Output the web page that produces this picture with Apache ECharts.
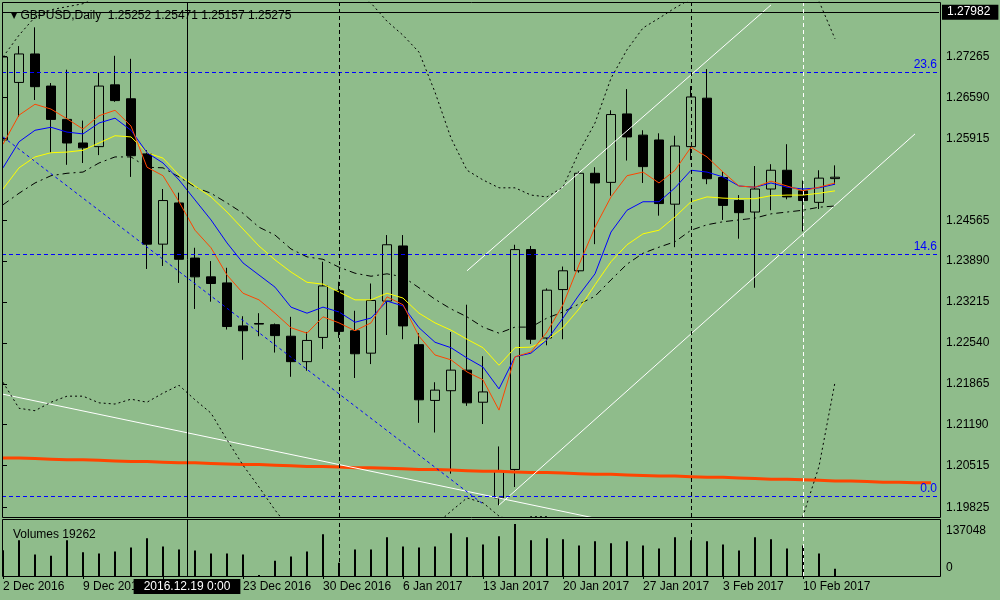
<!DOCTYPE html>
<html>
<head>
<meta charset="utf-8">
<script src="https://cdn.jsdelivr.net/npm/echarts@6.0.0/dist/echarts.min.js"></script>
<style>
  html, body { margin: 0; padding: 0; background: #8fbc8b; }
  #chart { width: 1000px; height: 600px; }
</style>
</head>
<body>
<div id="chart"></div>
<script>
// ==================== data
const dates = [
  '2 Dec 2016',
  '5 Dec 2016', '6 Dec 2016', '7 Dec 2016', '8 Dec 2016', '9 Dec 2016',
  '12 Dec 2016', '13 Dec 2016', '14 Dec 2016', '15 Dec 2016', '16 Dec 2016',
  '19 Dec 2016', '20 Dec 2016', '21 Dec 2016', '22 Dec 2016', '23 Dec 2016',
  '26 Dec 2016', '27 Dec 2016', '28 Dec 2016', '29 Dec 2016', '30 Dec 2016',
  '2 Jan 2017', '3 Jan 2017', '4 Jan 2017', '5 Jan 2017', '6 Jan 2017',
  '9 Jan 2017', '10 Jan 2017', '11 Jan 2017', '12 Jan 2017', '13 Jan 2017',
  '16 Jan 2017', '17 Jan 2017', '18 Jan 2017', '19 Jan 2017', '20 Jan 2017',
  '23 Jan 2017', '24 Jan 2017', '25 Jan 2017', '26 Jan 2017', '27 Jan 2017',
  '30 Jan 2017', '31 Jan 2017', '1 Feb 2017', '2 Feb 2017', '3 Feb 2017',
  '6 Feb 2017', '7 Feb 2017', '8 Feb 2017', '9 Feb 2017', '10 Feb 2017',
  '13 Feb 2017', '14 Feb 2017',
];
const shownDates = ['2 Dec 2016', '9 Dec 2016', '16 Dec 2016', '23 Dec 2016', '30 Dec 2016',
  '6 Jan 2017', '13 Jan 2017', '20 Jan 2017', '27 Jan 2017', '3 Feb 2017', '10 Feb 2017'];

const opens = [1.2589, 1.2684, 1.2731, 1.2678, 1.2623, 1.2584, 1.2578, 1.2680, 1.2657, 1.2566,
  1.2417, 1.2485, 1.2394, 1.2363, 1.2353, 1.2282, 1.2286, 1.2284, 1.2265, 1.2223,
  1.2263, 1.2340, 1.2274, 1.2237, 1.2323, 1.2414, 1.2251, 1.2159, 1.2175, 1.2209,
  1.2156, 1.1998, 1.2045, 1.2408, 1.2262, 1.2342, 1.2373, 1.2534, 1.2519, 1.2632,
  1.2597, 1.2589, 1.2483, 1.2578, 1.2658, 1.2527, 1.2489, 1.2470, 1.2508, 1.2539,
  1.2505, 1.2486, 1.25252];
const highs = [1.2738, 1.2744, 1.2775, 1.2683, 1.2705, 1.2621, 1.2700, 1.2728, 1.2723, 1.2572,
  1.2508, 1.2502, 1.2411, 1.2389, 1.2378, 1.2298, 1.2303, 1.2286, 1.2297, 1.2272,
  1.2388, 1.2355, 1.2307, 1.2352, 1.2432, 1.2432, 1.2270, 1.2189, 1.2272, 1.2317,
  1.2232, 1.2083, 1.2416, 1.2414, 1.2344, 1.2380, 1.2537, 1.2544, 1.2638, 1.2673,
  1.2605, 1.2600, 1.2596, 1.2678, 1.2706, 1.2537, 1.2498, 1.2546, 1.2549, 1.2582,
  1.2522, 1.2539, 1.25471];
const lows = [1.2569, 1.2627, 1.2655, 1.2568, 1.2548, 1.2551, 1.2564, 1.2652, 1.2528, 1.2376,
  1.2381, 1.2353, 1.2310, 1.2322, 1.2276, 1.2226, 1.2265, 1.2238, 1.2198, 1.2208,
  1.2244, 1.2262, 1.2196, 1.2219, 1.2267, 1.2260, 1.2122, 1.2106, 1.2038, 1.2150,
  1.2120, 1.1986, 1.2016, 1.2252, 1.2250, 1.2260, 1.2370, 1.2417, 1.2497, 1.2555,
  1.2518, 1.2464, 1.2412, 1.2556, 1.2516, 1.2457, 1.2426, 1.2345, 1.2473, 1.2491,
  1.2438, 1.2475, 1.25157];
const closes = [1.2726, 1.2731, 1.2677, 1.2623, 1.2584, 1.2576, 1.2678, 1.2654, 1.2563, 1.2417,
  1.2489, 1.2392, 1.2363, 1.2352, 1.2281, 1.2274, 1.2285, 1.2266, 1.2223, 1.2258,
  1.2348, 1.2273, 1.2236, 1.2324, 1.2416, 1.2282, 1.2160, 1.2176, 1.2209, 1.2155,
  1.2173, 1.2043, 1.2408, 1.2260, 1.2341, 1.2373, 1.2534, 1.2518, 1.2631, 1.2594,
  1.2545, 1.2484, 1.2579, 1.2660, 1.2525, 1.2481, 1.2469, 1.2508, 1.2539, 1.2495,
  1.2489, 1.2526, 1.25275];
const volumes = [68000, 94000, 56400, 53700, 94000, 62700, 59100, 64500, 75200, 99400,
  77900, 69900, 67200, 59100, 59100, 56400, 2700, 40300, 51100, 64500,
  110200, 34900, 69900, 69900, 102100, 77900, 75200, 77900, 112900, 102100,
  83300, 104800, 137048, 94000, 99400, 96700, 80600, 91400, 86000, 91400,
  80600, 72600, 102100, 94000, 91400, 83300, 67200, 102100, 96700, 72600,
  80600, 59100, 19262];

// moving averages (red, blue, yellow) and the dash-dot one
const maRed = [1.2582, 1.2630, 1.2648, 1.2640, 1.2624, 1.2607, 1.2629, 1.2638, 1.2612, 1.2544,
  1.2530, 1.2487, 1.2440, 1.2411, 1.2366, 1.2336, 1.2325, 1.2303, 1.2279, 1.2270,
  1.2297, 1.2287, 1.2274, 1.2287, 1.2330, 1.2317, 1.2265, 1.2234, 1.2226, 1.2206,
  1.2193, 1.2143, 1.2231, 1.2239, 1.2272, 1.2317, 1.2383, 1.2445, 1.2495, 1.2530,
  1.2536, 1.2518, 1.2539, 1.2577, 1.2561, 1.2536, 1.2513, 1.2511, 1.2521, 1.2513,
  1.2505, 1.2511, 1.2518];
const maBlue = [1.2543, 1.2586, 1.2605, 1.2610, 1.2602, 1.2599, 1.2617, 1.2625, 1.2605, 1.2568,
  1.2551, 1.2523, 1.2490, 1.2457, 1.2419, 1.2386, 1.2366, 1.2346, 1.2313, 1.2303,
  1.2313, 1.2305, 1.2288, 1.2295, 1.2323, 1.2315, 1.2279, 1.2255, 1.2246, 1.2229,
  1.2214, 1.2178, 1.2231, 1.2237, 1.2259, 1.2295, 1.2333, 1.2368, 1.2437, 1.2473,
  1.2487, 1.2487, 1.2510, 1.2539, 1.2536, 1.2528, 1.2513, 1.2511, 1.2518, 1.2511,
  1.2508, 1.2510, 1.2516];
const maYellow = [1.2508, 1.2543, 1.2561, 1.2568, 1.2569, 1.2572, 1.2584, 1.2596, 1.2594, 1.2568,
  1.2559, 1.2531, 1.2513, 1.2495, 1.2470, 1.2442, 1.2414, 1.2391, 1.2371, 1.2354,
  1.2351, 1.2338, 1.2325, 1.2325, 1.2336, 1.2328, 1.2303, 1.2287, 1.2275, 1.2260,
  1.2246, 1.2217, 1.2246, 1.2247, 1.2259, 1.2279, 1.2310, 1.2350, 1.2388, 1.2416,
  1.2434, 1.2440, 1.2462, 1.2487, 1.2495, 1.2493, 1.2492, 1.2492, 1.2497, 1.2498,
  1.2498, 1.2501, 1.2505];
const maDashDot = [1.2482, 1.2501, 1.2518, 1.2530, 1.2534, 1.2536, 1.2551, 1.2561, 1.2561, 1.2544,
  1.2543, 1.2528, 1.2511, 1.2501, 1.2485, 1.2468, 1.2445, 1.2432, 1.2409, 1.2396,
  1.2392, 1.2379, 1.2369, 1.2364, 1.2368, 1.2363, 1.2345, 1.2326, 1.2310, 1.2297,
  1.2280, 1.2270, 1.2280, 1.2280, 1.2295, 1.2305, 1.2318, 1.2331, 1.2358, 1.2384,
  1.2402, 1.2412, 1.2421, 1.2440, 1.2449, 1.2454, 1.2457, 1.2460, 1.2467, 1.2470,
  1.2473, 1.2478, 1.2480];
// wide envelope (dotted), partly off the pane
const bandUpper = [1.2726, 1.2762, 1.2792, 1.2804, 1.2809, 1.2814, 1.2826, 1.2840, 1.2852, 1.2862,
  1.2870, 1.2876, 1.2880, 1.2880, 1.2878, 1.2874, 1.2868, 1.2862, 1.2856, 1.2849,
  1.2842, 1.2836, 1.2829, 1.2815, 1.2785, 1.2762, 1.2734, 1.2668, 1.2592, 1.2539,
  1.2523, 1.2510, 1.2510, 1.2498, 1.2495, 1.2511, 1.2569, 1.2617, 1.2691, 1.2738,
  1.2774, 1.2790, 1.2807, 1.2822, 1.2832, 1.2838, 1.2840, 1.2838, 1.2834, 1.2828,
  1.2824, 1.2818, 1.2756];
const bandLower = [1.2189, 1.2146, 1.2142, 1.2156, 1.2166, 1.2166, 1.2155, 1.2153, 1.2161, 1.2156,
  1.2171, 1.2184, 1.2160, 1.2138, 1.2094, 1.2052, 1.2016, 1.1978, 1.1945, 1.1920,
  1.1904, 1.1896, 1.1896, 1.1904, 1.1920, 1.1937, 1.1953, 1.1953, 1.1976, 1.1998,
  1.1990, 1.1968, 1.1958, 1.1967, 1.1967, 1.1958, 1.1937, 1.1915, 1.1890, 1.1865,
  1.1845, 1.1830, 1.1820, 1.1815, 1.1815, 1.1820, 1.1830, 1.1845, 1.1865, 1.1890,
  1.1968, 1.2050, 1.2189];
// long shifted MA (orange), runs past the last bar
const maLong = [1.2064, 1.2064, 1.2063, 1.2062, 1.2061, 1.2061, 1.2060, 1.2059, 1.2058, 1.2058,
  1.2057, 1.2056, 1.2056, 1.2055, 1.2054, 1.2053, 1.2053, 1.2052, 1.2051, 1.2050,
  1.2050, 1.2049, 1.2048, 1.2048, 1.2047, 1.2046, 1.2045, 1.2045, 1.2044, 1.2043,
  1.2042, 1.2042, 1.2041, 1.2040, 1.2040, 1.2039, 1.2038, 1.2037, 1.2037, 1.2036,
  1.2035, 1.2034, 1.2034, 1.2033, 1.2032, 1.2032, 1.2031, 1.2030, 1.2029, 1.2029,
  1.2028, 1.2027, 1.2026, 1.2026, 1.2025, 1.2024, 1.2024, 1.2023, 1.2023];

// drawn objects: [bar index, price]
const trendDown = [[-0.5, 1.2172], [40, 1.1948]];
const channelTop = [[29, 1.2373], [48, 1.2812]];
const channelBottom = [[31, 1.1986], [57, 1.2599]];
const blueDiagonal = [[0, 1.2594], [30, 1.1988]];
const fibLevels = [1.19863, 1.24283, 1.27029];
const fibNames = ['0.0', '14.6', '23.6'];
const levelLine = 1.27982;

const priceTicks = [1.27265, 1.26590, 1.25915, 1.24565, 1.23890, 1.23215, 1.22540,
  1.21865, 1.21190, 1.20515, 1.19825];
const cursorLabel = '2016.12.19 0:00';

// ==================== layout
const FONT = 'Liberation Sans';
const BG = '#8fbc8b';
const futureSlots = 6;
const slots = dates.concat(new Array(futureSlots).fill(''));
const fmt5 = v => v.toFixed(5);
const last = dates.length - 1;
const showDate = (i, v) => shownDates.indexOf(v) >= 0;
const separators = [dates.indexOf('2 Jan 2017'), dates.indexOf('1 Feb 2017')];
const marker = dates.indexOf('10 Feb 2017');
const cursorX = dates.indexOf('19 Dec 2016') + 0.5;
const volTop = Math.max(...volumes);

const candleData = dates.map((d, i) => [opens[i], closes[i], lows[i], highs[i]]);

const boxLabel = text => ({
  show: true,
  position: 'end',
  formatter: text,
  backgroundColor: '#000',
  color: '#fff',
  fontFamily: FONT,
  fontSize: 12,
  padding: [2, 8, 1, 5],
  distance: 3,
});

const vLines = [
  { xAxis: separators[0], lineStyle: { color: '#000', type: [4, 3], width: 1 } },
  { xAxis: separators[1], lineStyle: { color: '#000', type: [4, 3], width: 1 } },
  { xAxis: marker, lineStyle: { color: '#fff', type: [4, 3], width: 1 } },
];

const lineSeries = (name, data, color, type, width, xIdx) => ({
  name,
  type: 'line',
  xAxisIndex: xIdx,
  yAxisIndex: 0,
  data,
  symbol: 'none',
  z: 3,
  lineStyle: { color, type, width },
});

const chart = echarts.init(document.getElementById('chart'));
chart.setOption({
  animation: false,
  backgroundColor: BG,
  title: [{
    left: 6,
    top: 5,
    text: `{tri|▼} GBPUSD,Daily  ${fmt5(opens[last])} ${fmt5(highs[last])} ${fmt5(lows[last])} ${fmt5(closes[last])}`,
    textStyle: {
      fontFamily: FONT, fontSize: 12, fontWeight: 'normal', color: '#000',
      rich: { tri: { fontSize: 8, color: '#000', fontFamily: 'DejaVu Sans' } },
    },
  }, {
    left: 8,
    top: 524,
    text: `Volumes ${volumes[last]}`,
    textStyle: { fontFamily: FONT, fontSize: 12, fontWeight: 'normal', color: '#000' },
  }],
  grid: [
    { left: -5, top: 2, width: 944, height: 515, outerBoundsMode: 'none', containLabel: false },
    { left: -5, top: 520, width: 944, height: 56, outerBoundsMode: 'none', containLabel: false },
  ],
  xAxis: [
    { type: 'category', gridIndex: 0, data: slots, show: false },
    { type: 'value', gridIndex: 0, min: -0.5, max: slots.length - 0.5, show: false },
    {
      type: 'category',
      gridIndex: 1,
      data: slots,
      axisLine: { show: false },
      axisTick: { show: true, alignWithLabel: true, interval: showDate, length: 3, lineStyle: { color: '#000' } },
      axisLabel: { interval: showDate, align: 'left', color: '#000', fontFamily: FONT, fontSize: 12, margin: 5 },
      splitLine: { show: false },
    },
    { type: 'value', gridIndex: 1, min: -0.5, max: slots.length - 0.5, show: false },
  ],
  yAxis: [{
    type: 'value',
    gridIndex: 0,
    position: 'right',
    min: 1.19665,
    max: 1.28168,
    splitLine: { show: false },
    axisLine: { show: false },
    axisTick: { show: true, customValues: priceTicks, length: 4, lineStyle: { color: '#000' } },
    axisLabel: { customValues: priceTicks, formatter: fmt5, color: '#000', fontFamily: FONT, fontSize: 12, margin: 7 },
  }, {
    type: 'value',
    gridIndex: 1,
    position: 'right',
    min: 0,
    max: 147600,
    splitLine: { show: false },
    axisLine: { show: false },
    axisTick: { show: false },
    axisLabel: {
      customValues: [0, volTop],
      margin: 7,
      formatter: v => (v === 0 ? '{lo|0}' : `{hi|${v}}`),
      rich: {
        lo: { padding: [0, 0, 16, 0], color: '#000', fontFamily: FONT, fontSize: 12 },
        hi: { padding: [13, 0, 0, 0], color: '#000', fontFamily: FONT, fontSize: 12 },
      },
    },
  }],
  series: [
    {
      name: 'GBPUSD',
      type: 'candlestick',
      xAxisIndex: 0,
      yAxisIndex: 0,
      data: candleData,
      barWidth: 9,
      z: 1,
      itemStyle: {
        color: 'transparent',
        color0: '#000',
        borderColor: '#000',
        borderColor0: '#000',
        borderWidth: 1,
      },
    },
    lineSeries('MA long', maLong, '#ff4500', 'solid', 3, 0),
    lineSeries('trend', trendDown, '#ffffff', 'solid', 1, 1),
    lineSeries('channel top', channelTop, '#ffffff', 'solid', 1, 1),
    lineSeries('channel bottom', channelBottom, '#ffffff', 'solid', 1, 1),
    lineSeries('diagonal', blueDiagonal, '#0000ff', [3, 3], 1, 1),
    lineSeries('band upper', bandUpper, '#000', [2, 3], 1, 0),
    lineSeries('band lower', bandLower, '#000', [2, 3], 1, 0),
    lineSeries('MA dashdot', maDashDot, '#000', [7, 4, 2, 4], 1, 0),
    lineSeries('MA yellow', maYellow, '#ffff00', 'solid', 1, 0),
    lineSeries('MA blue', maBlue, '#0000ff', 'solid', 1, 0),
    lineSeries('MA red', maRed, '#ff4500', 'solid', 1, 0),
    {
      name: 'guides',
      type: 'line',
      xAxisIndex: 1,
      yAxisIndex: 0,
      data: [[0, closes[last]]],
      symbol: 'none',
      z: 4,
      markLine: {
        silent: true,
        symbol: ['none', 'none'],
        animation: false,
        label: { show: false },
        data: [
          ...fibLevels.map((v, i) => ({
            yAxis: v,
            lineStyle: { color: '#0000ff', type: [4, 3], width: 1 },
            label: {
              show: true, position: 'insideEndTop', formatter: fibNames[i],
              color: '#0000ff', fontFamily: FONT, fontSize: 12, distance: 2,
            },
          })),
          { yAxis: levelLine, lineStyle: { color: '#000', type: 'solid', width: 1 }, label: boxLabel(fmt5(levelLine)) },
          { yAxis: closes[last], lineStyle: { opacity: 0 }, label: boxLabel(fmt5(closes[last])) },
          ...vLines,
          { xAxis: cursorX, lineStyle: { color: '#000', type: 'solid', width: 1 } },
        ],
      },
    },
    {
      name: 'Volumes',
      type: 'bar',
      xAxisIndex: 2,
      yAxisIndex: 1,
      data: volumes,
      barWidth: 2,
      itemStyle: { color: '#000' },
    },
    {
      name: 'volume guides',
      type: 'line',
      xAxisIndex: 3,
      yAxisIndex: 1,
      data: [[0, 0]],
      symbol: 'none',
      z: 4,
      markLine: {
        silent: true,
        symbol: ['none', 'none'],
        animation: false,
        label: { show: false },
        data: [
          ...vLines,
          {
            xAxis: cursorX,
            lineStyle: { color: '#000', type: 'solid', width: 1 },
            label: {
              show: true, position: 'start', formatter: cursorLabel,
              backgroundColor: '#000', color: '#fff', fontFamily: FONT, fontSize: 12,
              padding: [2, 10, 1, 10], distance: 3,
            },
          },
        ],
      },
    },
  ],
  graphic: [
    { type: 'rect', z: 100, shape: { x: 0, y: 0, width: 2.5, height: 578 }, style: { fill: BG } },
    { type: 'rect', z: 101, shape: { x: 2.5, y: 2.5, width: 938, height: 515 }, style: { fill: 'none', stroke: '#000', lineWidth: 1 } },
    { type: 'rect', z: 101, shape: { x: 2.5, y: 519.5, width: 938, height: 57 }, style: { fill: 'none', stroke: '#000', lineWidth: 1 } },
  ],
});
</script>
</body>
</html>
